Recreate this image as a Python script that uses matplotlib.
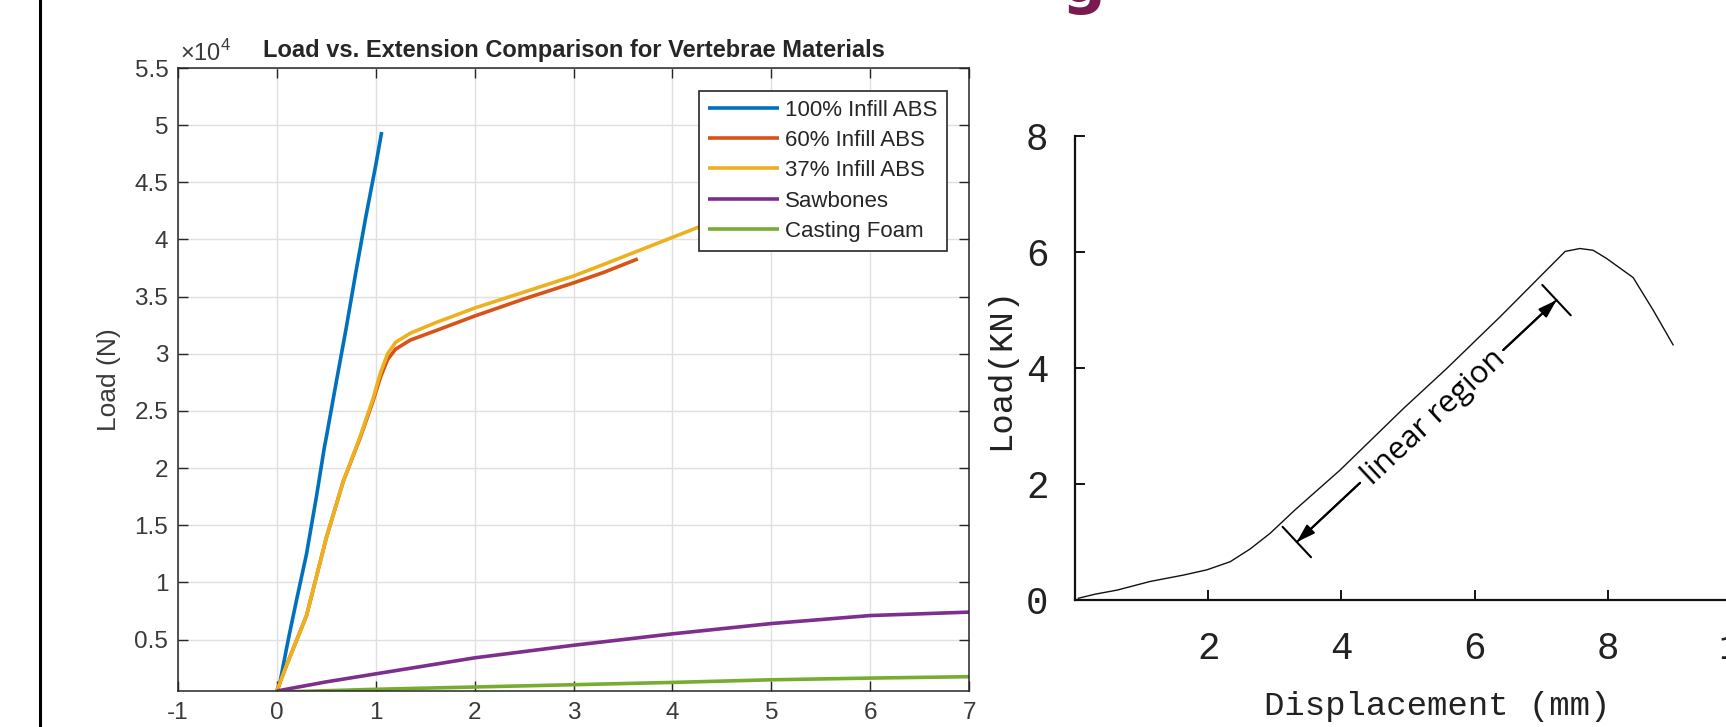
import matplotlib
matplotlib.use('Agg')
import matplotlib.pyplot as plt
from matplotlib.ticker import FuncFormatter, MultipleLocator
from matplotlib.lines import Line2D

plt.rcParams['font.family'] = ['Liberation Sans', 'DejaVu Sans']
plt.rcParams['mathtext.fontset'] = 'custom'
plt.rcParams['mathtext.rm'] = 'Liberation Sans'

# left panel - load (N) vs extension
ext_100 = [0, 0.03, 0.07, 0.12, 0.2, 0.3, 0.4, 0.48, 0.5, 0.6, 0.7, 0.8, 0.9, 1.0, 1.06]
load_100 = [500, 1200, 3000, 5200, 8500, 12500, 17500, 21800, 22700, 27500, 32200, 37200, 42000, 46500, 49400]

ext_60 = [0, 0.1, 0.3, 0.5, 0.67, 0.84, 0.97, 1.05, 1.12, 1.2, 1.35, 1.6, 2.0, 2.5, 3.0, 3.3, 3.65]
load_60 = [500, 2800, 7100, 13900, 18800, 22600, 25800, 28000, 29500, 30400, 31200, 32000, 33300, 34800, 36200, 37100, 38300]

ext_37 = [0, 0.1, 0.3, 0.5, 0.67, 0.84, 0.97, 1.05, 1.12, 1.2, 1.35, 1.6, 2.0, 2.5, 3.0, 3.3, 3.8, 4.3, 4.8]
load_37 = [500, 2800, 7100, 13900, 18800, 22700, 26000, 28400, 30000, 31000, 31800, 32700, 34000, 35400, 36800, 37800, 39500, 41200, 42500]

ext_saw = [0, 0.25, 0.5, 1, 2, 3, 4, 5, 6, 7, 7.2]
load_saw = [500, 900, 1300, 2000, 3400, 4500, 5500, 6400, 7100, 7400, 7450]

ext_foam = [0, 1, 2, 3, 4, 5, 6, 7, 7.2]
load_foam = [400, 650, 850, 1050, 1250, 1480, 1630, 1750, 1770]

labels = ['100% Infill ABS', '60% Infill ABS', '37% Infill ABS', 'Sawbones', 'Casting Foam']
colors = ['#0072BD', '#D95319', '#EDB120', '#7E2F8E', '#77AC30']

# right panel - load (kN) vs displacement (mm)
disp = [0.05, 0.3, 0.63, 1.13, 1.63, 1.98, 2.33, 2.63, 2.93, 3.3, 3.98, 4.93, 5.58,
        6.38, 7.03, 7.36, 7.58, 7.78, 7.98, 8.38, 8.68, 8.98]
load_kn = [0.03, 0.1, 0.17, 0.32, 0.43, 0.52, 0.66, 0.88, 1.15, 1.55, 2.24, 3.30, 3.99,
           4.88, 5.63, 6.01, 6.06, 6.03, 5.89, 5.56, 5.0, 4.40]

# linear region marker (data coords of right panel)
bar_low = (3.33, 1.0)
gap_low = (4.28, 2.02)
gap_high = (6.43, 4.31)
bar_high = (7.23, 5.17)
text_pos = (5.39, 3.15)

W, H = 1726, 727
fig = plt.figure(figsize=(W / 100, H / 100), dpi=100)

ax1 = fig.add_axes([178 / W, 1 - 691 / H, (969 - 178) / W, (691 - 68) / H])
series = [(ext_100, load_100), (ext_60, load_60), (ext_37, load_37),
          (ext_saw, load_saw), (ext_foam, load_foam)]
for (x, y), lab, c in zip(series, labels, colors):
    ax1.plot(x, y, color=c, lw=2.6, label=lab, solid_capstyle='butt')

ax1.set_xlim(-1, 7)
ax1.set_ylim(500, 55000)
ax1.xaxis.set_major_locator(MultipleLocator(1))
ax1.yaxis.set_major_locator(MultipleLocator(5000))
ax1.xaxis.set_major_formatter(FuncFormatter(lambda v, p: f'{v:g}'))
ax1.yaxis.set_major_formatter(FuncFormatter(lambda v, p: f'{v / 1e4:g}'))
ax1.tick_params(direction='in', top=True, right=True, length=7, width=1,
                color='#262626', labelcolor='#3a3a3a', labelsize=17.5)
ax1.tick_params(axis='x', pad=8)
ax1.tick_params(axis='y', pad=7)
ax1.grid(True, color='#e0e0e0', lw=1)
ax1.set_axisbelow(True)
for s in ax1.spines.values():
    s.set_color('#262626')
    s.set_linewidth(1.1)

ax1.set_title('Load vs. Extension Comparison for Vertebrae Materials',
              fontsize=17, fontweight='bold', color='#262626', pad=8)
ax1.set_ylabel('Load (N)', fontsize=19, color='#3a3a3a')
ax1.yaxis.set_label_coords(-0.072, 0.5)
ax1.text(0.003, 1.004, r'$\times10^4$', transform=ax1.transAxes, fontsize=17,
         ha='left', va='bottom', color='#3a3a3a')

leg = ax1.legend(loc='upper right', bbox_to_anchor=(0.9718, 0.9636), borderaxespad=0,
                 fontsize=16, handlelength=3.2, handletextpad=0.3, labelspacing=0.42,
                 borderpad=0.4, fancybox=False, framealpha=1, edgecolor='#262626')
leg.get_frame().set_linewidth(1.2)
for t in leg.get_texts():
    t.set_color('#262626')

# right panel
ax2 = fig.add_axes([1075 / W, 1 - 600 / H, 11 * 66.6 / W, 464 / H])
ax2.plot(disp, load_kn, color='#111111', lw=1.0)
ax2.set_xlim(0, 11)
ax2.set_ylim(0, 8)
ax2.set_xticks([2, 4, 6, 8, 10])
ax2.set_yticks([0, 2, 4, 6, 8])
ax2.spines['top'].set_visible(False)
ax2.spines['right'].set_visible(False)
for s in ('left', 'bottom'):
    ax2.spines[s].set_linewidth(1.6)
    ax2.spines[s].set_color('#111111')
ax2.tick_params(direction='in', length=7, width=1.3, labelsize=27,
                labelfontfamily='Liberation Mono', labelcolor='#222222')
ax2.tick_params(axis='x', pad=22)
ax2.tick_params(axis='y', pad=19)
ax2.set_xlabel('Displacement (mm)', fontsize=24.5, family='Liberation Mono', color='#222222')
ax2.xaxis.set_label_coords(0.494, -0.196)
ax2.set_ylabel('Load(KN)', fontsize=24.5, family='Liberation Mono', color='#222222')
ax2.yaxis.set_label_coords(-0.0805, 0.5)

arrow = dict(arrowstyle='-|>,head_length=1.1,head_width=0.35', color='black', lw=1.5,
             shrinkA=0, shrinkB=0)
bar = dict(arrowstyle='|-|,widthA=0,widthB=1.5', color='black', lw=1.5,
           shrinkA=0, shrinkB=0, mutation_scale=10)
for a, b in ((gap_low, bar_low), (gap_high, bar_high)):
    ax2.annotate('', xy=b, xytext=a, arrowprops=arrow)
    ax2.annotate('', xy=b, xytext=a, arrowprops=bar)
ax2.text(text_pos[0], text_pos[1], 'linear region', rotation=43, rotation_mode='anchor',
         ha='center', va='center', fontsize=22.5, family='Open Sans', color='black')

# page decorations from the source figure
fig.add_artist(Line2D([39.8 / W] * 2, [0, 1], transform=fig.transFigure, color='black', lw=2.2))
fig.text(1083 / W, 1 - 15 / H, 'g', fontsize=44, fontweight='bold', color='#7a1a4e',
         ha='center', va='bottom', family='DejaVu Sans')

fig.savefig('out.png', dpi=100)
